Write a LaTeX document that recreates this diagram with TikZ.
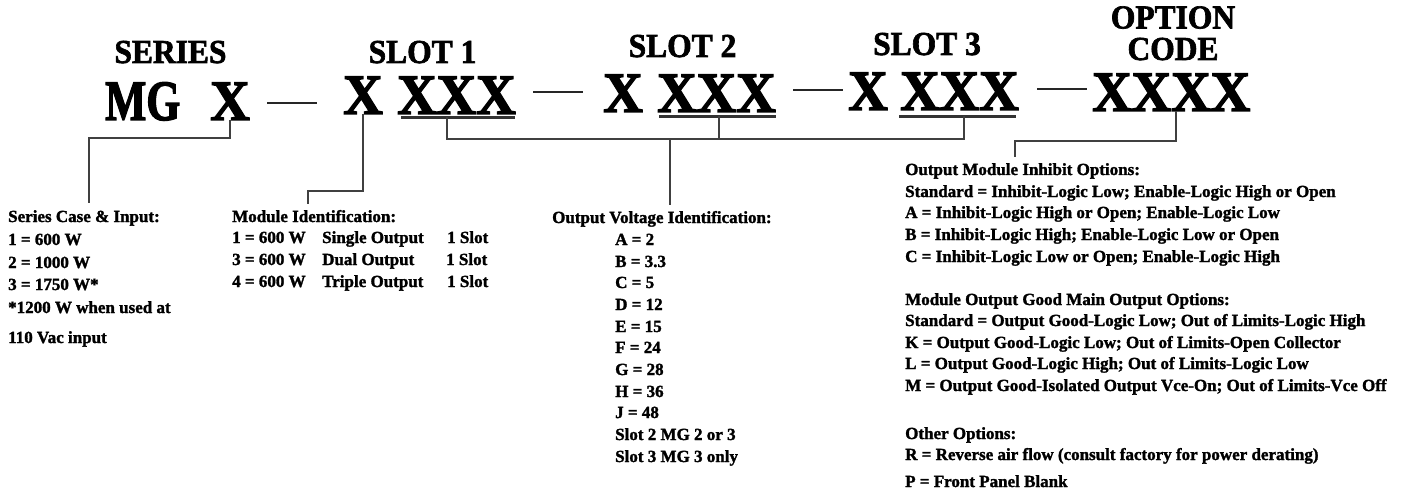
\documentclass[tikz,border=0pt]{standalone}
\usepackage{fontspec}
\usepackage{graphicx}
\setmainfont{Liberation Serif}
\newfontfamily\bodyfont{Liberation Serif Bold}[FakeBold=1.6]
\newfontfamily\headfont{Liberation Serif Bold}[FakeBold=2]
\newfontfamily\bigfont{Liberation Serif Bold}[FakeBold=2.5]
\tikzset{
  body/.style={anchor=base west, inner sep=0pt, font=\fontsize{17}{20}\selectfont\bodyfont},
  head/.style={anchor=base, inner sep=0pt, font=\fontsize{33.5}{31.5}\selectfont\headfont},
  big/.style={anchor=base west, inner sep=0pt, font=\fontsize{57}{60}\selectfont\bigfont},
  dashbar/.style={anchor=center, inner sep=0pt, fill=black!85, minimum width=50pt, minimum height=2.4pt},
  conn/.style={draw=black!75, line width=1.8pt},
  uline/.style={draw=black!80, line width=2.4pt},
}
\newcommand{\hs}[1]{\scalebox{0.94}[1]{#1}}
\newcommand{\bs}[1]{\scalebox{0.96}[1]{#1}}
\begin{document}
\begin{tikzpicture}[x=1pt,y=-1pt]
\useasboundingbox (0,0) rectangle (1403,492);
% headings
\node[head] (hser) at (170.5,63) {\hs{SERIES}};
\node[head] (hs1) at (422.5,63) {\hs{SLOT 1}};
\node[head] (hs2) at (682.5,57) {\hs{SLOT 2}};
\node[head] (hs3) at (927,55) {\hs{SLOT 3}};
\node[head, anchor=south, align=center] (hopt) at (1173,60.5) {\hs{OPTION}\\\hs{CODE}};
% code line
\node[big] (mg) at (105,120) {\scalebox{0.765}[1]{MG}};
\node[big] (mgX) at (210,120) {\bs{X}};
\node[dashbar] (d1) at (292,103) {};
\node[big] (s1X) at (343,114) {\bs{X}};
\node[big] (s1U) at (397,114) {\bs{XXX}};
\node[dashbar] (d2) at (558,92) {};
\node[big] (s2X) at (603,112) {\bs{X}};
\node[big] (s2U) at (657,112) {\bs{XXX}};
\node[dashbar] (d3) at (818,90) {};
\node[big] (s3X) at (848,110) {\bs{X}};
\node[big] (s3U) at (900,110) {\bs{XXX}};
\node[dashbar] (d4) at (1062,89) {};
\node[big] (optX) at (1092,111) {\bs{XXXX}};
% underlines
\coordinate (u1a) at (401,117.5); \coordinate (u1b) at (515,117.5);
\coordinate (u2a) at (659,116.5); \coordinate (u2b) at (776,116.5);
\coordinate (u3a) at (899,116.5); \coordinate (u3b) at (1016,116.5);
\draw[uline] (u1a) -- (u1b);
\draw[uline] (u2a) -- (u2b);
\draw[uline] (u3a) -- (u3b);
% left block
\node[body] (sci) at (8,222) {Series Case \& Input:};
\node[body] (sc1) at (8,245) {1 = 600 W};
\node[body] (sc2) at (8,268) {2 = 1000 W};
\node[body] (sc3) at (8,290) {3 = 1750 W*};
\node[body] (sc4) at (8,313) {*1200 W when used at};
\node[body] (sc5) at (8,343) {110 Vac input};
% module identification
\node[body] (mid) at (232,222) {Module Identification:};
\node[body] (m1a) at (232,243) {1 = 600 W};
\node[body] (m1b) at (322,243) {Single Output};
\node[body] (m1c) at (447,243) {1 Slot};
\node[body] (m2a) at (232,265) {3 = 600 W};
\node[body] (m2b) at (322,265) {Dual Output};
\node[body] (m2c) at (446,265) {1 Slot};
\node[body] (m3a) at (232,287) {4 = 600 W};
\node[body] (m3b) at (322,287) {Triple Output};
\node[body] (m3c) at (447,287) {1 Slot};
% output voltage
\node[body] (ovi) at (552,223) {Output Voltage Identification:};
\node[body] (v1) at (615,245) {A = 2};
\node[body] (v2) at (615,267) {B = 3.3};
\node[body] (v3) at (615,288) {C = 5};
\node[body] (v4) at (615,310) {D = 12};
\node[body] (v5) at (615,332) {E = 15};
\node[body] (v6) at (615,353) {F = 24};
\node[body] (v7) at (615,375) {G = 28};
\node[body] (v8) at (615,397) {H = 36};
\node[body] (v9) at (615,418) {J = 48};
\node[body] (v10) at (615,440) {Slot 2 MG 2 or 3};
\node[body] (v11) at (615,462) {Slot 3 MG 3 only};
% options
\node[body] (omi) at (905,175) {Output Module Inhibit Options:};
\node[body] (o1) at (905,197) {Standard = Inhibit-Logic Low; Enable-Logic High or Open};
\node[body] (o2) at (905,218) {A = Inhibit-Logic High or Open; Enable-Logic Low};
\node[body] (o3) at (905,240) {B = Inhibit-Logic High; Enable-Logic Low or Open};
\node[body] (o4) at (905,262) {C = Inhibit-Logic Low or Open; Enable-Logic High};
\node[body] (mog) at (905,305) {Module Output Good Main Output Options:};
\node[body] (g1) at (905,326) {Standard = Output Good-Logic Low; Out of Limits-Logic High};
\node[body] (g2) at (905,348) {K = Output Good-Logic Low; Out of Limits-Open Collector};
\node[body] (g3) at (905,369) {L = Output Good-Logic High; Out of Limits-Logic Low};
\node[body] (g4) at (905,391) {M = Output Good-Isolated Output Vce-On; Out of Limits-Vce Off};
\node[body] (oth) at (905,439) {Other Options:};
\node[body] (r1) at (905,460) {R = Reverse air flow (consult factory for power derating)};
\node[body] (p1) at (905,487) {P = Front Panel Blank};
% connectors
\coordinate (j1) at (89,138);
\draw[conn] (mgX.south) |- (j1) -- ([yshift=7pt]j1 |- sci.north);
\coordinate (j2) at (308,191);
\draw[conn] (s1X.south) |- (j2) -- ([yshift=6pt]j2 |- mid.north);
\coordinate (u1) at (447,117.5);
\coordinate (u2) at (719,116.5);
\coordinate (u3) at (964,116.5);
\coordinate (bL) at (447,139);
\coordinate (bR) at (964,139);
\coordinate (bM) at (670,139);
\draw[conn] (u1) -- (bL) -- (bR) -- (u3);
\draw[conn] (u2) -- (u2 |- bL);
\draw[conn] (bM) -- ([yshift=6pt]bM |- ovi.north);
\coordinate (j4) at (1015,141);
\draw[conn] ([xshift=5pt]optX.south) |- (j4) -- ([yshift=6pt]j4 |- omi.north);
\end{tikzpicture}
\end{document}
